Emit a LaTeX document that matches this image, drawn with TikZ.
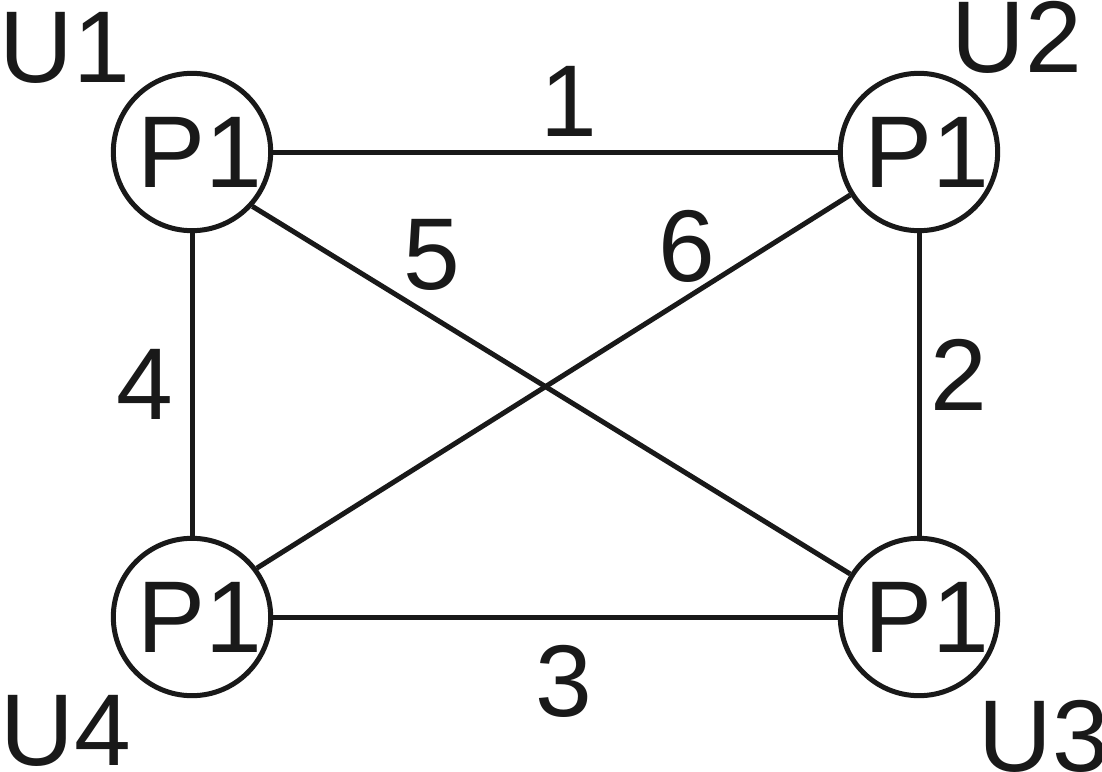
\documentclass[tikz,border=0pt]{standalone}
\usepackage{fontspec}
\setmainfont{Liberation Sans}
\begin{document}
\begin{tikzpicture}[x=1pt,y=-1pt,
  every node/.style={font=\fontsize{102}{110}\selectfont, text=black!90},
  pnode/.style={circle, draw=black!90, line width=5pt, minimum size=155pt, inner sep=0pt},
  lbl/.style={anchor=base, inner sep=0pt},
  edge/.style={draw=black!90, line width=5pt}]
\useasboundingbox (0,0) rectangle (1102,771);
\node[pnode] (u1) at (192,152) {\kern16pt P1};
\node[pnode] (u2) at (919,152) {\kern16pt P1};
\node[pnode] (u3) at (919,617) {\kern16pt P1};
\node[pnode] (u4) at (192,617) {\kern16pt P1};
\path[edge] (u1) -- (u2);
\path[edge] (u2) -- (u3);
\path[edge] (u3) -- (u4);
\path[edge] (u4) -- (u1);
\path[edge] (u1.-42) -- (u3.148.7);
\path[edge] (u2.-148.1) -- (u4.37.9);
\node[lbl] (l1) at (569,136) {1};
\node[lbl] (l2) at (959,410) {2};
\node[lbl] (l3) at (564,716) {3};
\node[lbl] (l4) at (145,419) {4};
\node[lbl] (l5) at (432,289) {5};
\node[lbl] (l6) at (687,281) {6};
\node[lbl] (n1) at (65,82) {U1};
\node[lbl] (n2) at (1017,72) {U2};
\node[lbl] (n3) at (1044,771) {U3};
\node[lbl] (n4) at (66,765) {U4};
\end{tikzpicture}
\end{document}
